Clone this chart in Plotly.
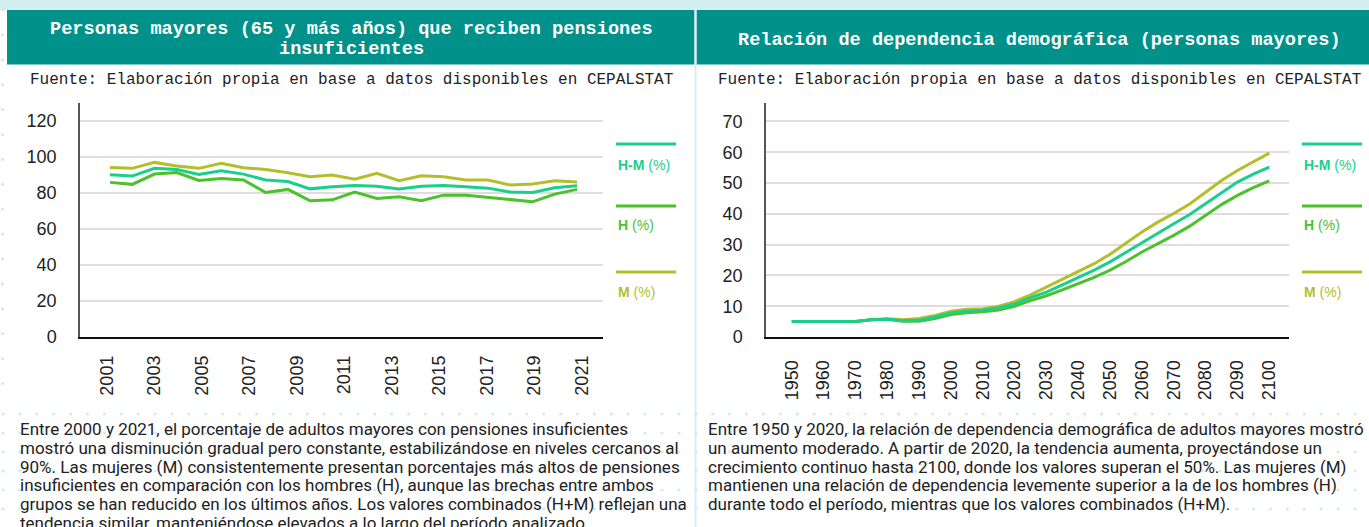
import numpy as np
import plotly.graph_objects as go

W, H = 1369, 527

# ---- data: insufficient pensions (%), 2000-2021 ----
pension_years = list(range(2000, 2022))
pension_hm = [90.1, 89.4, 93.7, 93.1, 90.3, 92.4, 90.5, 87.2, 86.4, 82.3, 83.5,
              84.2, 83.8, 82.2, 83.8, 84.2, 83.5, 82.7, 80.5, 80.3, 82.9, 84.0]
pension_h = [85.9, 84.8, 90.5, 91.4, 87.0, 88.1, 87.2, 80.3, 82.0, 75.7, 76.2,
             80.5, 77.0, 77.9, 75.7, 78.8, 78.8, 77.5, 76.0, 75.1, 79.4, 82.0]
pension_m = [94.2, 93.7, 97.0, 95.0, 93.7, 96.5, 94.0, 93.1, 91.2, 89.0, 90.0,
             87.6, 90.9, 86.8, 89.6, 89.0, 87.2, 87.2, 84.4, 85.0, 86.8, 86.1]
pension_tick_years = list(range(2001, 2022, 2))

# ---- data: old-age dependency ratio, 1950-2100 ----
dep_years = list(range(1950, 2101, 5))
dep_m = [5.0, 4.9, 5.0, 5.0, 5.0, 5.6, 5.9, 5.6, 6.0, 7.0, 8.4, 9.0, 9.2, 10.0,
         11.5, 13.7, 16.2, 18.6, 21.1, 23.8, 26.9, 30.4, 34.1, 37.3, 40.1,
         43.2, 46.9, 50.8, 54.1, 57.0, 59.7]
dep_hm = [5.0, 4.9, 5.0, 5.0, 5.0, 5.6, 5.8, 5.3, 5.4, 6.5, 7.8, 8.4, 8.7, 9.4,
          10.7, 12.8, 14.6, 16.9, 19.3, 21.7, 24.4, 27.5, 30.8, 33.9, 36.8,
          39.8, 43.3, 47.0, 50.3, 52.9, 55.2]
dep_h = [5.0, 4.9, 5.0, 5.0, 5.0, 5.6, 5.8, 5.1, 5.1, 6.0, 7.3, 7.9, 8.2, 8.8,
         10.0, 11.8, 13.4, 15.3, 17.3, 19.4, 21.7, 24.5, 27.6, 30.3, 33.0,
         36.0, 39.5, 43.0, 46.0, 48.5, 50.7]
dep_tick_years = list(range(1950, 2101, 10))

series_names = ["H-M (%)", "H (%)", "M (%)"]
C_HM, C_H, C_M = "#19CF8B", "#4DC12B", "#B3BF2A"
TEAL = "#00918B"
BAND = "#D4EFF1"
DOT = "#CDECF1"
INK = "#222222"


def px(x):
    return x / W


def py(y):
    return 1 - y / H


fig = go.Figure()

# decorative dot pattern of the page background
dot_x, dot_y = [], []
for yy in np.arange(10, 400, 24.9):
    dot_x.append(2.5)
    dot_y.append(yy)
for yy in np.arange(414, 527, 19.0):
    for xx in np.arange(3, W, 16.9):
        dot_x.append(xx)
        dot_y.append(yy)
fig.add_trace(go.Scatter(x=dot_x, y=dot_y, mode="markers", xaxis="x4", yaxis="y4",
                         marker=dict(size=3.2, color=DOT), hoverinfo="skip",
                         showlegend=False))

# left chart
for vals, col, name in [(pension_m, C_M, series_names[2]),
                        (pension_h, C_H, series_names[1]),
                        (pension_hm, C_HM, series_names[0])]:
    fig.add_trace(go.Scatter(x=pension_years, y=vals, mode="lines", name=name,
                             line=dict(color=col, width=3), xaxis="x", yaxis="y",
                             showlegend=False))
# empty trace that carries the labelled year axis of the left chart
fig.add_trace(go.Scatter(x=pension_tick_years, y=[None] * len(pension_tick_years),
                         mode="lines", xaxis="x3", yaxis="y", hoverinfo="skip",
                         showlegend=False))

# right chart
for vals, col, name in [(dep_m, C_M, series_names[2]),
                        (dep_h, C_H, series_names[1]),
                        (dep_hm, C_HM, series_names[0])]:
    fig.add_trace(go.Scatter(x=dep_years, y=vals, mode="lines", name=name,
                             line=dict(color=col, width=3), xaxis="x2", yaxis="y2",
                             showlegend=False))

tick_font = dict(family="Liberation Sans, Arial, sans-serif", size=18, color=INK)
y_dom = [py(337), py(103)]

shapes = [
    # top band and panels
    dict(type="rect", xref="paper", yref="paper", x0=0, x1=1, y0=py(10), y1=1,
         fillcolor=BAND, line=dict(width=0), layer="below"),
    dict(type="rect", xref="paper", yref="paper", x0=px(7), x1=px(694.5), y0=py(400), y1=py(10),
         fillcolor="white", line=dict(width=0), layer="below"),
    dict(type="rect", xref="paper", yref="paper", x0=px(696.5), x1=1, y0=py(400), y1=py(10),
         fillcolor="white", line=dict(width=0), layer="below"),
    dict(type="rect", xref="paper", yref="paper", x0=px(7), x1=px(694.5), y0=py(64.5), y1=py(10),
         fillcolor=TEAL, line=dict(width=0), layer="below"),
    dict(type="rect", xref="paper", yref="paper", x0=px(696.5), x1=1, y0=py(64.5), y1=py(10),
         fillcolor=TEAL, line=dict(width=0), layer="below"),
    dict(type="line", xref="paper", yref="paper", x0=px(695.5), x1=px(695.5), y0=0, y1=py(10),
         line=dict(color="#D8EEF2", width=2), layer="below"),
]

annotations = []

# headers
for txt, xc, yc in [("Personas mayores (65 y más años) que reciben pensiones", 351, 30),
                    ("insuficientes", 351, 50),
                    ("Relación de dependencia demográfica (personas mayores)", 1039, 40)]:
    annotations.append(dict(text="<b>" + txt + "</b>", x=px(xc), y=py(yc), xref="paper",
                            yref="paper", showarrow=False, xanchor="center", yanchor="middle",
                            font=dict(family="Liberation Mono, monospace", size=18.6,
                                      color="white")))
for xc in (351, 1039):
    annotations.append(dict(text="Fuente: Elaboración propia en base a datos disponibles en CEPALSTAT",
                            x=px(xc), y=py(80), xref="paper", yref="paper", showarrow=False,
                            xanchor="center", yanchor="middle",
                            font=dict(family="Liberation Mono, monospace", size=16.0, color=INK)))

# legends (swatch + label) beside each chart
for x0 in (616, 1302):
    for (label, col, ly, ty) in [("H-M", C_HM, 144, 165), ("H", C_H, 206, 225), ("M", C_M, 272, 292)]:
        shapes.append(dict(type="line", xref="paper", yref="paper", x0=px(x0), x1=px(x0 + 60),
                           y0=py(ly), y1=py(ly), line=dict(color=col, width=3)))
        annotations.append(dict(text="<b>" + label + "</b> (%)", x=px(x0), y=py(ty),
                                xref="paper", yref="paper", showarrow=False,
                                xanchor="left", yanchor="middle",
                                font=dict(family="Liberation Sans, Arial, sans-serif",
                                          size=14, color=col)))

# paragraphs
left_lines = [
    "Entre 2000 y 2021, el porcentaje de adultos mayores con pensiones insuficientes",
    "mostró una disminución gradual pero constante, estabilizándose en niveles cercanos al",
    "90%. Las mujeres (M) consistentemente presentan porcentajes más altos de pensiones",
    "insuficientes en comparación con los hombres (H), aunque las brechas entre ambos",
    "grupos se han reducido en los últimos años. Los valores combinados (H+M) reflejan una",
    "tendencia similar, manteniéndose elevados a lo largo del período analizado.",
]
right_lines = [
    "Entre 1950 y 2020, la relación de dependencia demográfica de adultos mayores mostró",
    "un aumento moderado. A partir de 2020, la tendencia aumenta, proyectándose un",
    "crecimiento continuo hasta 2100, donde los valores superan el 50%. Las mujeres (M)",
    "mantienen una relación de dependencia levemente superior a la de los hombres (H)",
    "durante todo el período, mientras que los valores combinados (H+M).",
]
for lines, x0 in ((left_lines, 18), (right_lines, 706)):
    for i, ln in enumerate(lines):
        annotations.append(dict(text=ln, x=px(x0), y=py(429 + 18.8 * i), xref="paper",
                                yref="paper", showarrow=False, xanchor="left",
                                yanchor="middle",
                                font=dict(family="Roboto, sans-serif", size=17, color=INK)))

axis_common = dict(automargin=False, zeroline=False)

fig.update_layout(
    width=W, height=H,
    margin=dict(l=0, r=0, t=0, b=0, pad=0, autoexpand=False),
    paper_bgcolor="white",
    plot_bgcolor="rgba(0,0,0,0)",
    showlegend=False,
    shapes=shapes,
    annotations=annotations,
    # left chart: data axis
    xaxis=dict(domain=[px(80), px(603)], range=[1998.651, 2022.169], anchor="y",
               showticklabels=False, ticks="", showgrid=False,
               showline=True, linecolor="#111111", linewidth=2, **axis_common),
    # left chart: labelled year axis
    xaxis3=dict(domain=[px(80), px(603)], range=[1999.876, 2021.897], anchor="y",
                overlaying="x", side="bottom", tickmode="array",
                tickvals=pension_tick_years, ticktext=[str(v) for v in pension_tick_years],
                tickangle=-90, tickfont=tick_font, ticks="", ticklabelstandoff=14,
                showgrid=False, showline=False, **axis_common),
    yaxis=dict(domain=y_dom, range=[0, 130], anchor="x", tickmode="array",
               tickvals=list(range(0, 121, 20)), tickfont=tick_font, ticks="",
               ticklabelstandoff=18, showgrid=True, gridcolor="#DDDDDD", gridwidth=1.5,
               showline=True, linecolor="#555555", linewidth=1.5, **axis_common),
    # right chart
    xaxis2=dict(domain=[px(766), px(1289)], range=[1941.9, 2106.2], anchor="y2",
                tickmode="array", tickvals=dep_tick_years,
                ticktext=[str(v) for v in dep_tick_years], tickangle=-90,
                tickfont=tick_font, ticks="", ticklabelstandoff=14, showgrid=False,
                showline=True, linecolor="#111111", linewidth=2, **axis_common),
    yaxis2=dict(domain=y_dom, range=[0, 76], anchor="x2", tickmode="array",
                tickvals=list(range(0, 71, 10)), tickfont=tick_font, ticks="",
                ticklabelstandoff=18, showgrid=True, gridcolor="#DDDDDD", gridwidth=1.5,
                showline=True, linecolor="#555555", linewidth=1.5, **axis_common),
    # page-wide pixel frame for the background dots
    xaxis4=dict(domain=[0, 1], range=[0, W], visible=False, anchor="y4", **axis_common),
    yaxis4=dict(domain=[0, 1], range=[H, 0], visible=False, anchor="x4", **axis_common),
)

fig.write_html("out.html")
